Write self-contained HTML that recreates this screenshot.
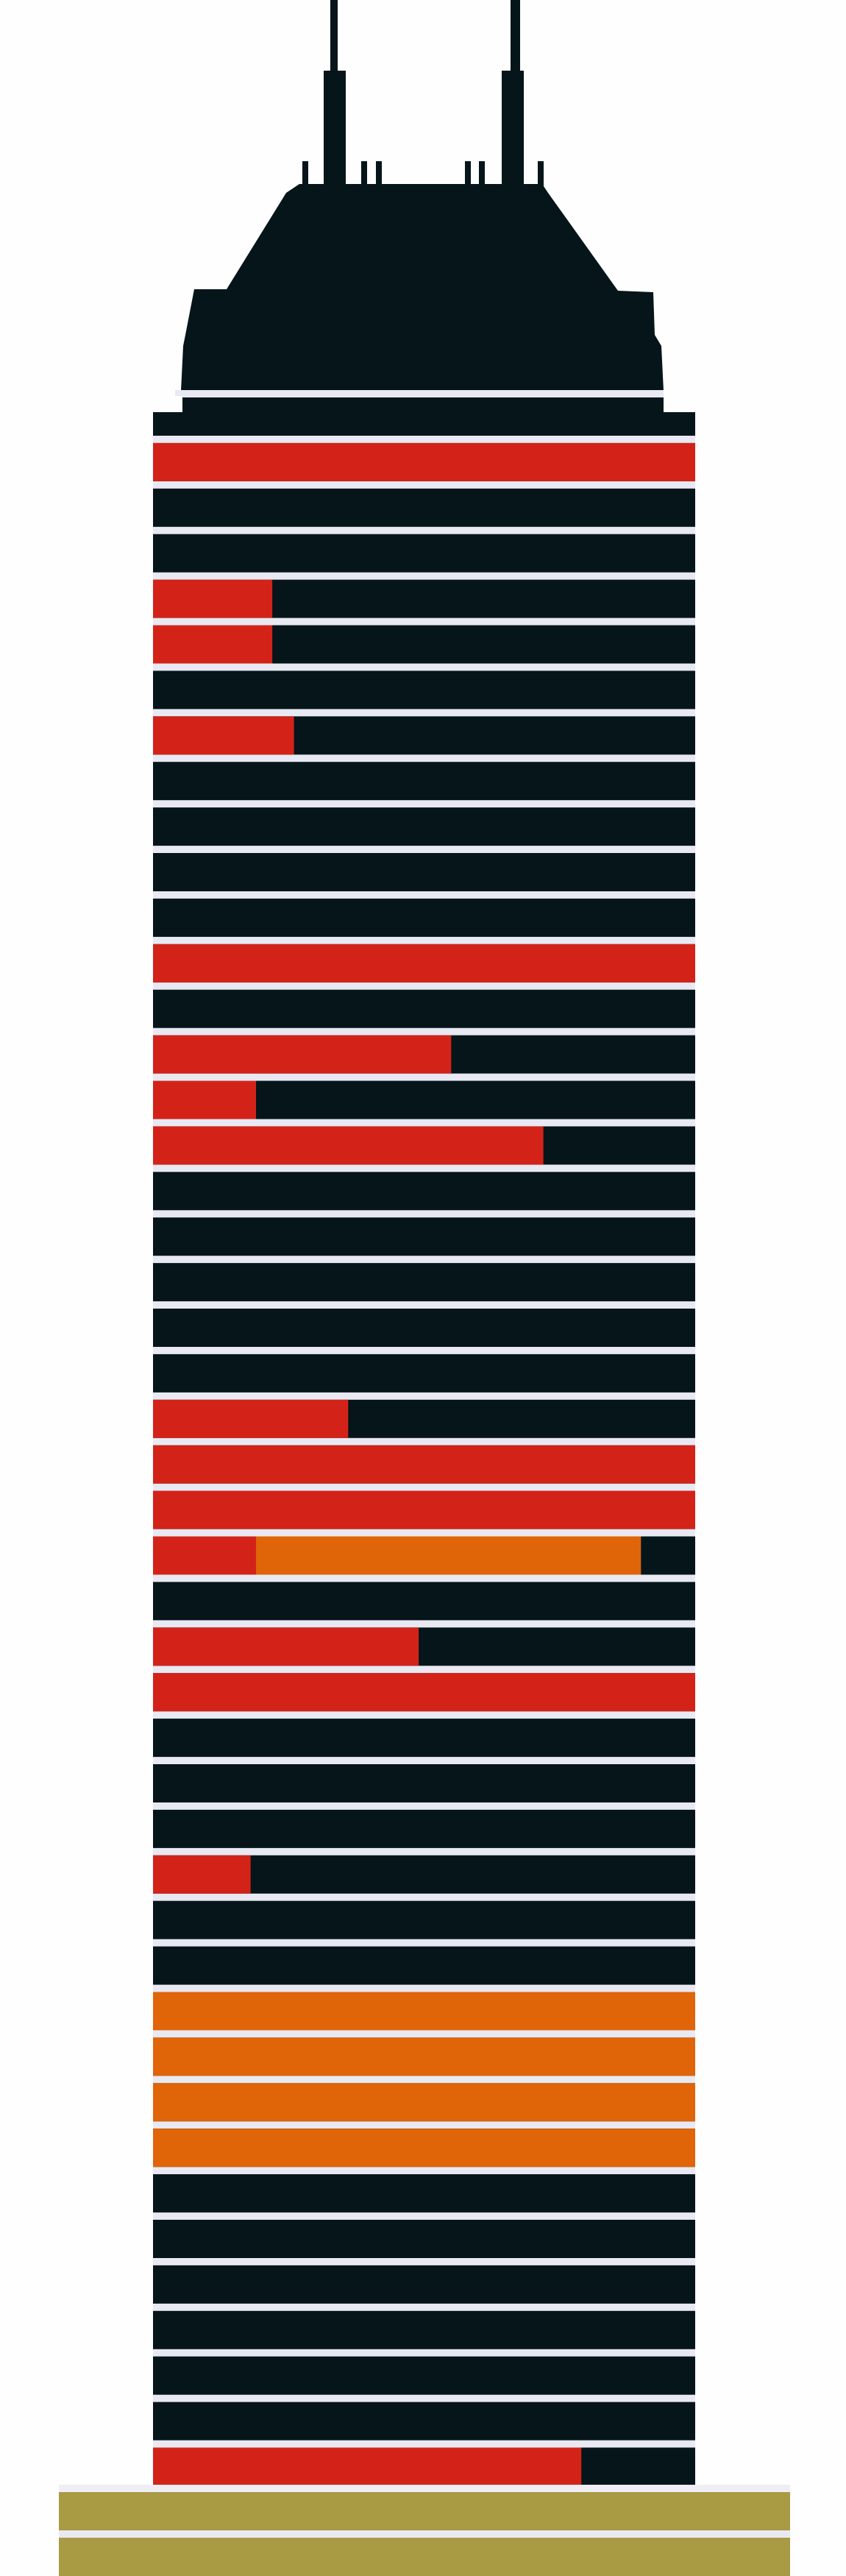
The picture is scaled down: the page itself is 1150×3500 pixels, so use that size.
<!DOCTYPE html>
<html>
<head>
<meta charset="utf-8">
<style>
  html,body{margin:0;padding:0;background:#fefefe;}
  body{width:1150px;height:3500px;overflow:hidden;font-family:"Liberation Sans",sans-serif;}
  svg{display:block;}
</style>
</head>
<body>
<svg id="chart" width="1150" height="3500" viewBox="0 0 1150 3500" xmlns="http://www.w3.org/2000/svg">
  <g id="roof" fill="#051519">
    <rect x="449" y="0" width="10" height="100"/>
    <rect x="440" y="96" width="30" height="160"/>
    <rect x="694" y="0" width="13" height="100"/>
    <rect x="682" y="96" width="30" height="160"/>
    <rect x="411" y="219" width="8" height="35"/>
    <rect x="491" y="219" width="8" height="35"/>
    <rect x="511" y="219" width="8" height="35"/>
    <rect x="632" y="219" width="8" height="35"/>
    <rect x="651" y="219" width="8" height="35"/>
    <rect x="731" y="219" width="8" height="35"/>
    <polygon points="407,250 737,250 745,262 840,395 888,397 890,455 899,470 902,531 246,531 249,470 252,455 264,393 308,393 389,262"/>
  </g>
  <rect x="238" y="530" width="664" height="10" fill="#e8e9f2"/>
  <rect x="208" y="540" width="737" height="2846" fill="#e8e9f2"/>
  <g id="rows"></g>
  <rect x="206" y="538" width="42" height="22" fill="#fefefe"/>
  <rect x="902" y="538" width="45" height="22" fill="#fefefe"/>
  <rect x="80" y="3376" width="994" height="10" fill="#eeeef4"/>
  <rect x="80" y="3386" width="994" height="52" fill="#a99a44"/>
  <rect x="80" y="3438" width="994" height="10" fill="#e8e9f2"/>
  <rect x="80" y="3448" width="994" height="52" fill="#a99a44"/>
</svg>
<script>
// Share of each floor (top to bottom), fraction of full width
const redShare = [0,1,0,0,0.22,0.22,0,0.26,0,0,0,0,1,0,0.55,0.19,0.72,0,0,0,0,0,0.36,1,1,0.19,0,0.49,1,0,0,0,0.18,0,0,0,0,0,0,0,0,0,0,0,0,0.79];
const orangeShare = [0,0,0,0,0,0,0,0,0,0,0,0,0,0,0,0,0,0,0,0,0,0,0,0,0,0.71,0,0,0,0,0,0,0,0,0,1,1,1,1,0,0,0,0,0,0,0];

const NS = "http://www.w3.org/2000/svg";
const X0 = 208, W = 737, Y0 = 540, PITCH = 61.9, H = 52;
function xScale(v){ return X0 + v * W; }
function yScale(i){ return Y0 + i * PITCH; }

const g = document.getElementById('rows');
function mk(x, y, w, h, fill){
  const r = document.createElementNS(NS, 'rect');
  r.setAttribute('x', x); r.setAttribute('y', y);
  r.setAttribute('width', Math.max(0, w)); r.setAttribute('height', h);
  r.setAttribute('fill', fill);
  return r;
}
for (let i = 0; i < redShare.length; i++) {
  const y = yScale(i);
  const bg = mk(X0, y, W, H, '#051519');
  
  
  g.appendChild(bg);
  const r = redShare[i], o = orangeShare[i];
  if (r > 0) {
    const rr = mk(xScale(0), y, xScale(r) - xScale(0), H, '#d32319');
    
    
    g.appendChild(rr);
  }
  if (o > 0) {
    const orr = mk(xScale(r), y, xScale(r + o) - xScale(r), H, '#e06408');
    
    
    g.appendChild(orr);
  }
}
</script>
</body>
</html>
